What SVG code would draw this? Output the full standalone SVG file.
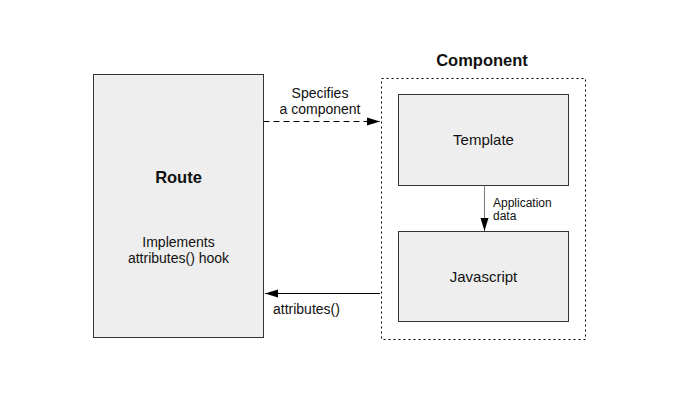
<svg xmlns="http://www.w3.org/2000/svg" width="680" height="404" viewBox="0 0 680 404">
<defs>
<style>
.box{fill:#eeeeee;stroke:#333333;stroke-width:1}
.t{font-family:"Liberation Sans",Arial,sans-serif;fill:#111111}
.b{font-weight:bold}
.c{text-anchor:middle}
</style>
<marker id="ah" viewBox="0 0 13 10" refX="13" refY="5" markerWidth="13" markerHeight="10" markerUnits="userSpaceOnUse" orient="auto">
<path d="M0,1 L13,5 L0,9 Z" fill="#000"/>
</marker>
</defs>
<rect width="680" height="404" fill="#ffffff"/>
<g id="route">
<rect class="box" x="93.5" y="74.5" width="170" height="263"/>
<text class="t b c" x="178.5" y="183" font-size="16.5">Route</text>
<text class="t c" x="178.5" y="247" font-size="14">Implements</text>
<text class="t c" x="178.5" y="263" font-size="14">attributes() hook</text>
</g>
<g id="component">
<rect x="381.5" y="78.5" width="204" height="261" fill="none" stroke="#000" stroke-width="1" stroke-dasharray="2,3"/>
<text class="t b c" x="482" y="66" font-size="16.5">Component</text>
</g>
<g id="template">
<rect class="box" x="398.5" y="94.5" width="170" height="91"/>
<text class="t c" x="483.5" y="145" font-size="15">Template</text>
</g>
<g id="javascript">
<rect class="box" x="398.5" y="231.5" width="170" height="90"/>
<text class="t c" x="483.5" y="282" font-size="15">Javascript</text>
</g>
<g id="connectors">
<line x1="263.5" y1="121.5" x2="380" y2="121.5" stroke="#000" stroke-dasharray="6,4" marker-end="url(#ah)"/>
<text class="t c" x="320" y="98" font-size="14">Specifies</text>
<text class="t c" x="320" y="114" font-size="14">a component</text>
<line x1="484.5" y1="185.5" x2="484.5" y2="231" stroke="#777" marker-end="url(#ah)"/>
<text class="t" x="493" y="207" font-size="12">Application</text>
<text class="t" x="493" y="220" font-size="12">data</text>
<line x1="380" y1="293.5" x2="265" y2="293.5" stroke="#000" marker-end="url(#ah)"/>
<text class="t" x="273" y="314" font-size="14">attributes()</text>
</g>
</svg>
